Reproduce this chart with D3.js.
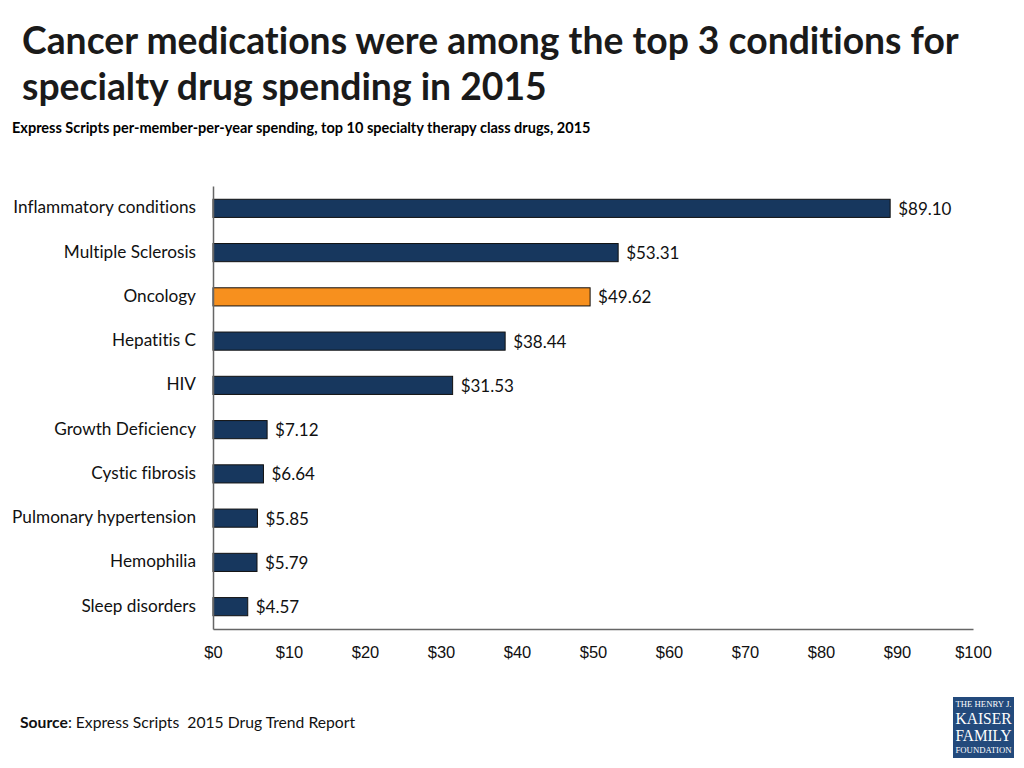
<!DOCTYPE html>
<html>
<head>
<meta charset="utf-8">
<script src="https://cdn.jsdelivr.net/npm/d3@7"></script>
<style>
  body { margin: 0; background: #fff; }
  svg { font-family: Lato, "Open Sans", sans-serif; font-variant-ligatures: none; }
</style>
</head>
<body>
<script>
// data
var categories = ["Inflammatory conditions", "Multiple Sclerosis", "Oncology", "Hepatitis C", "HIV",
                  "Growth Deficiency", "Cystic fibrosis", "Pulmonary hypertension", "Hemophilia", "Sleep disorders"];
var spending = [89.10, 53.31, 49.62, 38.44, 31.53, 7.12, 6.64, 5.85, 5.79, 4.57];
var ticks = [0, 10, 20, 30, 40, 50, 60, 70, 80, 90, 100];
var highlight = "Oncology";

var w = 1024, h = 768;
var plotLeft = 213, plotRight = 973, plotTop = 186, plotBottom = 629;

var svg = d3.select("body")
            .append("svg")
            .attr("width", w)
            .attr("height", h);

// titles
svg.append("text")
    .attr("x", 22).attr("y", 54)
    .attr("font-size", 37.3).attr("font-weight", "bold").attr("fill", "#1a1a1a")
    .text("Cancer medications were among the top 3 conditions for");
svg.append("text")
    .attr("x", 22).attr("y", 100)
    .attr("font-size", 37.3).attr("font-weight", "bold").attr("fill", "#1a1a1a")
    .text("specialty drug spending in 2015");
svg.append("text")
    .attr("x", 12).attr("y", 133)
    .attr("font-size", 14.5).attr("font-weight", "bold").attr("fill", "#000")
    .text("Express Scripts per-member-per-year spending, top 10 specialty therapy class drugs, 2015");

var xScale = d3.scaleLinear().domain([0, 100]).range([plotLeft, plotRight]);
var yScale = d3.scaleBand().domain(categories).range([plotTop, plotBottom]).paddingInner(0.59).paddingOuter(0.3);

// bars
svg.selectAll("rect.bar")
    .data(categories)
    .enter()
    .append("rect")
    .attr("class", "bar")
    .attr("x", xScale(0))
    .attr("y", (d) => yScale(d))
    .attr("width", (d, i) => xScale(spending[i]) - xScale(0))
    .attr("height", yScale.bandwidth())
    .attr("fill", (d) => d == highlight ? "#f7901e" : "#17375e")
    .attr("stroke", "#111")
    .attr("stroke-width", 1);

// value labels
svg.selectAll("text.val")
    .data(categories)
    .enter()
    .append("text")
    .attr("class", "val")
    .attr("x", (d, i) => xScale(spending[i]) + 8)
    .attr("y", (d) => yScale(d) + yScale.bandwidth() / 2 + 0.5)
    .attr("dy", "0.35em")
    .attr("font-size", 17)
    .attr("fill", "#111")
    .text((d, i) => "$" + spending[i].toFixed(2));

// category labels
svg.selectAll("text.cat")
    .data(categories)
    .enter()
    .append("text")
    .attr("class", "cat")
    .attr("x", plotLeft - 17)
    .attr("y", (d) => yScale(d) + yScale.bandwidth() / 2 - 1)
    .attr("dy", "0.35em")
    .attr("text-anchor", "end")
    .attr("font-size", 17.2)
    .attr("fill", "#111")
    .text((d) => d);

// axes
var xAxis = d3.axisBottom(xScale).tickValues(ticks).tickSize(0).tickPadding(17).tickFormat((d) => "$" + d);
var gx = svg.append("g")
    .attr("id", "x-axis")
    .attr("transform", "translate(0," + plotBottom + ")")
    .call(xAxis);
gx.select(".domain").attr("stroke", "#666").attr("stroke-width", 1.5);
gx.selectAll("text").attr("font-size", 16.5).attr("fill", "#111").attr("font-family", null);

var yAxis = d3.axisLeft(yScale).tickSize(0).tickFormat("");
var gy = svg.append("g")
    .attr("id", "y-axis")
    .attr("transform", "translate(" + plotLeft + ",0)")
    .call(yAxis);
gy.select(".domain").attr("stroke", "#666").attr("stroke-width", 1.5);

// source
var src = svg.append("text")
    .attr("x", 20).attr("y", 728)
    .attr("font-size", 15.7).attr("fill", "#111")
    .attr("xml:space", "preserve");
src.append("tspan").attr("font-weight", "bold").text("Source");
src.append("tspan").text(": Express Scripts  2015 Drug Trend Report");

// logo
var logo = svg.append("g").attr("transform", "translate(953,697)");
logo.append("rect").attr("width", 61).attr("height", 61).attr("fill", "#234a7c");
var logoText = [["THE HENRY J.", 7.5, 10], ["KAISER", 17, 27], ["FAMILY", 17, 44], ["FOUNDATION", 7.5, 56]];
logo.selectAll("text")
    .data(logoText)
    .enter()
    .append("text")
    .attr("x", 30.5)
    .attr("y", (d) => d[2])
    .attr("text-anchor", "middle")
    .style("font-family", "'Liberation Serif', 'DejaVu Serif', serif")
    .attr("font-size", (d) => d[1])
    .attr("fill", "#fff")
    .attr("textLength", 56)
    .attr("lengthAdjust", "spacingAndGlyphs")
    .text((d) => d[0]);
</script>
</body>
</html>
